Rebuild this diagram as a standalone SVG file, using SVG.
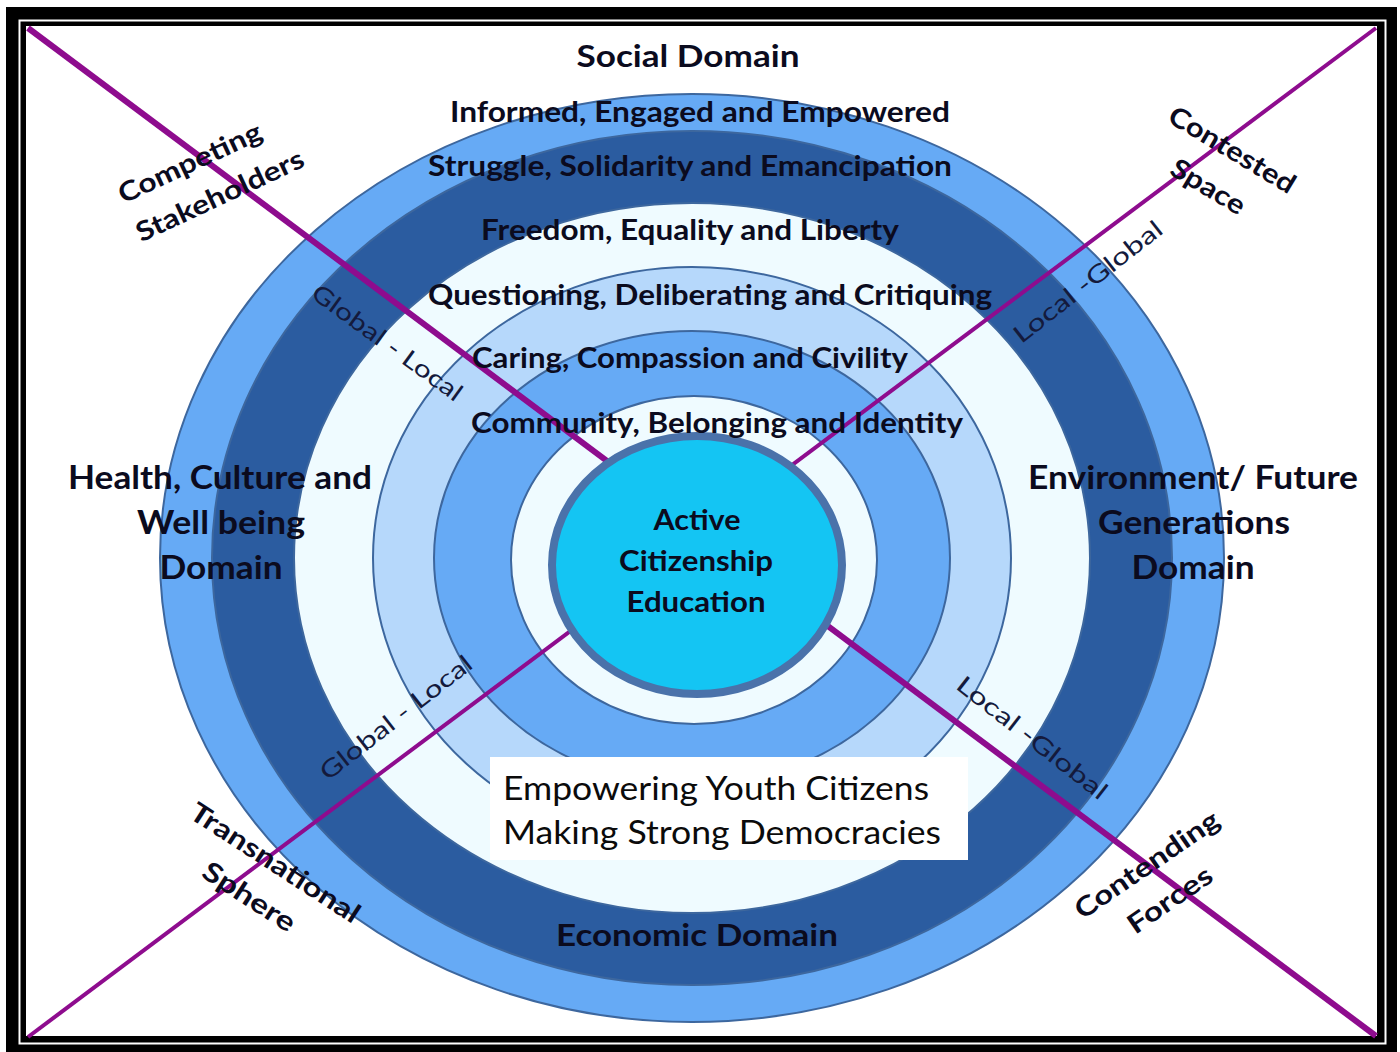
<svg xmlns="http://www.w3.org/2000/svg" width="1400" height="1052" viewBox="0 0 1400 1052">
<style>
.lbl{font-family:Lato,"Open Sans","Liberation Sans",sans-serif;font-weight:bold;fill:#0b0b1e;text-anchor:middle}
.gl{font-family:Lato,"Open Sans","Liberation Sans",sans-serif;font-weight:normal;fill:#141a3c;text-anchor:middle;font-size:24px}
.ring{stroke:#3d679e;stroke-width:2}
.xl{stroke:#8e0c8e;fill:none}
</style>
<rect x="0" y="0" width="1400" height="1052" fill="#ffffff"/>
<rect x="6" y="7" width="1391" height="1045" fill="#000000"/>
<rect x="19.5" y="20.5" width="1366" height="1023" fill="none" stroke="#ffffff" stroke-width="2"/>
<rect x="26" y="26" width="1351" height="1010" fill="#ffffff"/>

<g id="rings">
<ellipse id="ring-outer" class="ring" cx="692" cy="558" rx="532" ry="464" fill="#66aaf5"/>
<ellipse id="ring-dark" class="ring" cx="692" cy="558" rx="480" ry="427" fill="#2b5ca0"/>
<ellipse id="ring-white" class="ring" cx="692" cy="558" rx="398" ry="355" fill="#effbff"/>
<ellipse id="ring-light" class="ring" cx="692" cy="558" rx="319" ry="291" fill="#b6d8fb"/>
<ellipse id="ring-medium" class="ring" cx="692" cy="558" rx="258" ry="227" fill="#66aaf5"/>
<ellipse id="ring-inner" class="ring" cx="694" cy="560" rx="183" ry="164" fill="#effbff"/>
</g>

<g id="connectors">
<line class="xl" x1="28" y1="28" x2="1376" y2="1036" stroke-width="6"/>
<line class="xl" x1="1376" y1="28" x2="28" y2="1037" stroke-width="4"/>
</g>

<g id="center">
<ellipse cx="697" cy="565" rx="145" ry="129" fill="#14c5f3" stroke="#4a72aa" stroke-width="8"/>
<text class="lbl" font-size="28" x="697" y="530" textLength="87" lengthAdjust="spacingAndGlyphs">Active</text>
<text class="lbl" font-size="28" x="696" y="571" textLength="154" lengthAdjust="spacingAndGlyphs">Citizenship</text>
<text class="lbl" font-size="28" x="696" y="612" textLength="139" lengthAdjust="spacingAndGlyphs">Education</text>
</g>

<g id="ring-labels">
<text class="lbl" font-size="30" x="688" y="67" textLength="223" lengthAdjust="spacingAndGlyphs">Social Domain</text>
<text class="lbl" font-size="28" x="700" y="122" textLength="500" lengthAdjust="spacingAndGlyphs">Informed, Engaged and Empowered</text>
<text class="lbl" font-size="28" x="690" y="176" textLength="524" lengthAdjust="spacingAndGlyphs">Struggle, Solidarity and Emancipation</text>
<text class="lbl" font-size="28" x="690" y="240" textLength="418" lengthAdjust="spacingAndGlyphs">Freedom, Equality and Liberty</text>
<text class="lbl" font-size="28" x="710" y="305" textLength="564" lengthAdjust="spacingAndGlyphs">Questioning, Deliberating and Critiquing</text>
<text class="lbl" font-size="28" x="690" y="368" textLength="436" lengthAdjust="spacingAndGlyphs">Caring, Compassion and Civility</text>
<text class="lbl" font-size="28" x="717" y="433" textLength="492" lengthAdjust="spacingAndGlyphs">Community, Belonging and Identity</text>
<text class="lbl" font-size="30" x="697" y="946" textLength="282" lengthAdjust="spacingAndGlyphs">Economic Domain</text>
</g>

<g id="health-domain">
<text class="lbl" font-size="32" x="220" y="489" textLength="304" lengthAdjust="spacingAndGlyphs">Health, Culture and</text>
<text class="lbl" font-size="32" x="221" y="534" textLength="168" lengthAdjust="spacingAndGlyphs">Well being</text>
<text class="lbl" font-size="32" x="221" y="579" textLength="123" lengthAdjust="spacingAndGlyphs">Domain</text>
</g>

<g id="environment-domain">
<text class="lbl" font-size="32" x="1193" y="489" textLength="330" lengthAdjust="spacingAndGlyphs">Environment/ Future</text>
<text class="lbl" font-size="32" x="1194" y="534" textLength="192" lengthAdjust="spacingAndGlyphs">Generations</text>
<text class="lbl" font-size="32" x="1193" y="579" textLength="123" lengthAdjust="spacingAndGlyphs">Domain</text>
</g>

<g id="empowering-box">
<rect x="490" y="757" width="478" height="103" fill="#ffffff"/>
<text font-family="Lato,'Open Sans','Liberation Sans',sans-serif" font-size="32" fill="#0b0b0b" x="503" y="800" textLength="426" lengthAdjust="spacingAndGlyphs">Empowering Youth Citizens</text>
<text font-family="Lato,'Open Sans','Liberation Sans',sans-serif" font-size="32" fill="#0b0b0b" x="503" y="844" textLength="438" lengthAdjust="spacingAndGlyphs">Making Strong Democracies</text>
</g>

<g id="competing-stakeholders">
<text class="lbl" font-size="27" transform="translate(190,163) rotate(-25)" y="9" textLength="155" lengthAdjust="spacingAndGlyphs">Competing</text>
<text class="lbl" font-size="27" transform="translate(220,196) rotate(-25)" y="9" textLength="182" lengthAdjust="spacingAndGlyphs">Stakeholders</text>
</g>
<g id="contested-space">
<text class="lbl" font-size="27" transform="translate(1232,150) rotate(31)" y="9" textLength="143" lengthAdjust="spacingAndGlyphs">Contested</text>
<text class="lbl" font-size="27" transform="translate(1208,187) rotate(31)" y="9" textLength="82" lengthAdjust="spacingAndGlyphs">Space</text>
</g>
<g id="transnational-sphere">
<text class="lbl" font-size="27" transform="translate(275,863) rotate(33)" y="9" textLength="197" lengthAdjust="spacingAndGlyphs">Transnational</text>
<text class="lbl" font-size="27" transform="translate(249,897) rotate(33)" y="9" textLength="105" lengthAdjust="spacingAndGlyphs">Sphere</text>
</g>
<g id="contending-forces">
<text class="lbl" font-size="27" transform="translate(1147,865) rotate(-34.5)" y="9" textLength="169" lengthAdjust="spacingAndGlyphs">Contending</text>
<text class="lbl" font-size="27" transform="translate(1170,900) rotate(-34.5)" y="9" textLength="97" lengthAdjust="spacingAndGlyphs">Forces</text>
</g>

<g id="scale-labels">
<text class="gl" transform="translate(387,343) rotate(36)" y="8" textLength="180" lengthAdjust="spacingAndGlyphs">Global - Local</text>
<text class="gl" transform="translate(1088,282) rotate(-38)" y="8" textLength="182" lengthAdjust="spacingAndGlyphs">Local -Global</text>
<text class="gl" transform="translate(396,718) rotate(-38)" y="8" textLength="186" lengthAdjust="spacingAndGlyphs">Global - Local</text>
<text class="gl" transform="translate(1032,738) rotate(38)" y="8" textLength="184" lengthAdjust="spacingAndGlyphs">Local -Global</text>
</g>
</svg>
